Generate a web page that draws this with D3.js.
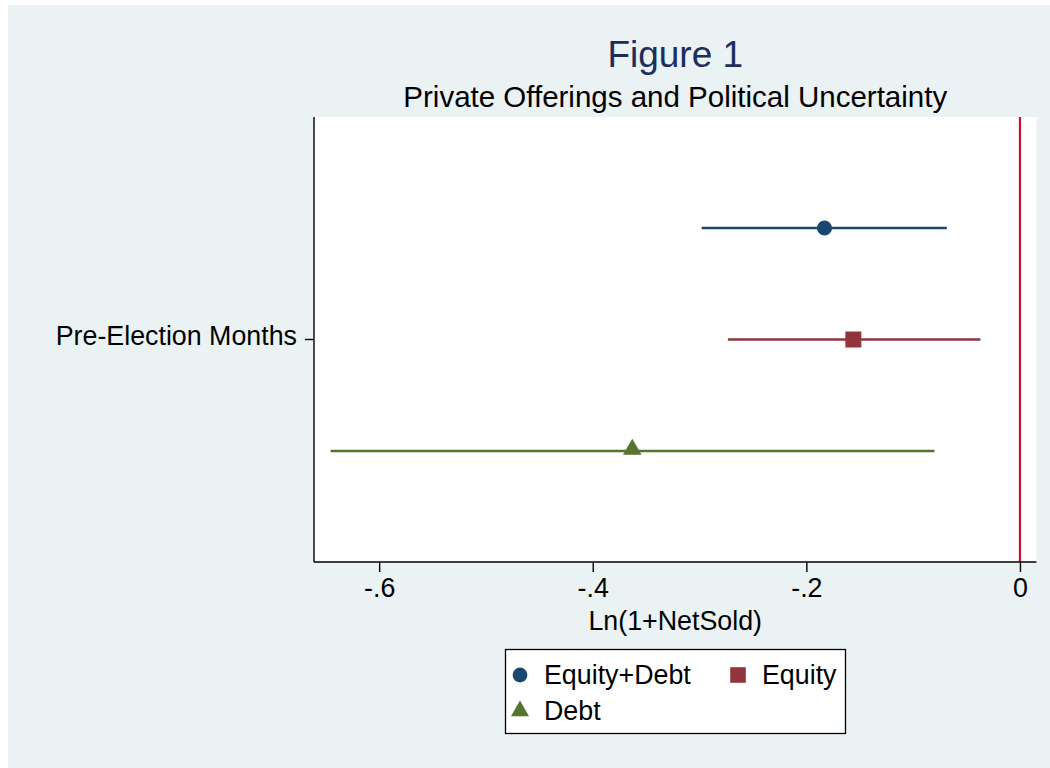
<!DOCTYPE html>
<html lang="en">
<head>
    <meta charset="utf-8">
    <title>Figure 1</title>
    <script src="https://d3js.org/d3.v7.min.js" charset="utf-8"></script>
    <style type="text/css">
        body {
            margin: 0;
            font-family: 'Liberation Sans', Arial, sans-serif;
        }
    </style>
</head>
<body>
    <script type="text/javascript">
        // data
        var categories = ["Pre-Election Months"];
        var series = ["Equity+Debt", "Equity", "Debt"];
        var estimates = [-0.183, -0.156, -0.363];
        var ciLow = [-0.298, -0.2735, -0.6455];
        var ciHigh = [-0.0685, -0.037, -0.080];
        var xTicks = [-0.6, -0.4, -0.2, 0];
        var refValue = 0;

        var colors = ["#1a476f", "#90353b", "#55752f"];
        var shapes = [d3.symbolCircle, d3.symbolSquare, d3.symbolTriangle];
        var sizes = [180, 256, 150];

        var width = 1050;
        var height = 768;
        var pLeft = 314, pRight = 1036.5, pTop = 117, pBottom = 562;
        var fontSize = "26.8px";

        var svg = d3.select("body")
                    .append("svg")
                    .attr("width", width)
                    .attr("height", height);

        svg.append("rect")
            .attr("x", 8)
            .attr("y", 5)
            .attr("width", width - 8)
            .attr("height", height - 5)
            .attr("fill", "#eaf2f3");

        svg.append("rect")
            .attr("x", pLeft)
            .attr("y", pTop)
            .attr("width", pRight - pLeft)
            .attr("height", pBottom - pTop)
            .attr("fill", "white");

        var x = d3.scaleLinear().domain([-0.661, 0.0155]).range([pLeft, pRight]);
        var yCat = d3.scaleBand().domain(categories).range([pTop, pBottom]);
        var yOff = d3.scalePoint().domain(series).range([-111.5, 111.5]);

        var rows = series.map(function (s, i) {
            return { name: s, est: estimates[i], lo: ciLow[i], hi: ciHigh[i], i: i };
        });

        var cy = function (d) {
            return yCat(categories[0]) + yCat.bandwidth() / 2 + yOff(d.name);
        };

        // reference line at zero
        svg.append("line")
            .attr("x1", x(refValue))
            .attr("x2", x(refValue))
            .attr("y1", pTop)
            .attr("y2", pBottom)
            .attr("stroke", "#c8102e")
            .attr("stroke-width", 2.2);

        svg.selectAll("line.ci")
            .data(rows)
            .enter()
            .append("line")
            .attr("class", "ci")
            .attr("x1", function (d) { return x(d.lo); })
            .attr("x2", function (d) { return x(d.hi); })
            .attr("y1", cy)
            .attr("y2", cy)
            .attr("stroke", function (d) { return colors[d.i]; })
            .attr("stroke-width", 2.4);

        svg.selectAll("path.pt")
            .data(rows)
            .enter()
            .append("path")
            .attr("class", "pt")
            .attr("d", function (d) { return d3.symbol().type(shapes[d.i]).size(sizes[d.i])(); })
            .attr("transform", function (d) {
                var dy = d.i == 2 ? -1.5 : 0;
                return "translate(" + x(d.est) + "," + (cy(d) + dy) + ")";
            })
            .attr("fill", function (d) { return colors[d.i]; });

        // axes
        var xAxis = svg.append("g")
            .attr("transform", "translate(0," + pBottom + ")")
            .call(d3.axisBottom(x)
                .tickValues(xTicks)
                .tickSize(10)
                .tickPadding(6)
                .tickFormat(function (d) { return d == 0 ? "0" : d3.format(".1f")(d).replace("0.", ".").replace("\u2212", "-"); }));
        xAxis.select(".domain").attr("d", "M" + pLeft + ",0H" + pRight).attr("stroke-width", 1.4);
        xAxis.selectAll("line").attr("stroke-width", 1.4);
        xAxis.selectAll("text")
            .attr("font-size", fontSize)
            .attr("font-family", "'Liberation Sans', Arial, sans-serif")
            .attr("fill", "black");

        var yAxis = svg.append("g")
            .attr("transform", "translate(" + pLeft + ",0)")
            .call(d3.axisLeft(yCat).tickSize(9).tickPadding(8));
        yAxis.select(".domain").attr("d", "M0," + pTop + "V" + pBottom).attr("stroke-width", 1.4);
        yAxis.selectAll("line").attr("stroke-width", 1.4);
        yAxis.selectAll("text")
            .attr("font-size", fontSize)
            .attr("font-family", "'Liberation Sans', Arial, sans-serif")
            .attr("dy", "0.2em")
            .attr("fill", "black");

        var midX = (pLeft + pRight) / 2;

        svg.append("text")
            .attr("x", midX)
            .attr("y", 630)
            .attr("text-anchor", "middle")
            .attr("font-size", fontSize)
            .text("Ln(1+NetSold)");

        svg.append("text")
            .attr("x", midX)
            .attr("y", 67)
            .attr("text-anchor", "middle")
            .attr("font-size", "37px")
            .attr("fill", "#1e2d5c")
            .text("Figure 1");

        svg.append("text")
            .attr("x", midX)
            .attr("y", 107)
            .attr("text-anchor", "middle")
            .attr("font-size", "29.5px")
            .text("Private Offerings and Political Uncertainty");

        // legend
        var legend = svg.append("g");
        legend.append("rect")
            .attr("x", 505.5)
            .attr("y", 649.5)
            .attr("width", 340)
            .attr("height", 84)
            .attr("fill", "white")
            .attr("stroke", "black")
            .attr("stroke-width", 1.3);

        var legPos = [[520, 675], [738, 675], [520, 711]];
        var item = legend.selectAll("g.item")
            .data(rows)
            .enter()
            .append("g")
            .attr("class", "item")
            .attr("transform", function (d) {
                return "translate(" + legPos[d.i][0] + "," + legPos[d.i][1] + ")";
            });

        item.append("path")
            .attr("d", function (d) { return d3.symbol().type(shapes[d.i]).size(sizes[d.i] * 0.95)(); })
            .attr("fill", function (d) { return colors[d.i]; });

        item.append("text")
            .attr("x", 24)
            .attr("y", 9)
            .attr("font-size", fontSize)
            .text(function (d) { return d.name; });
    </script>
</body>
</html>
